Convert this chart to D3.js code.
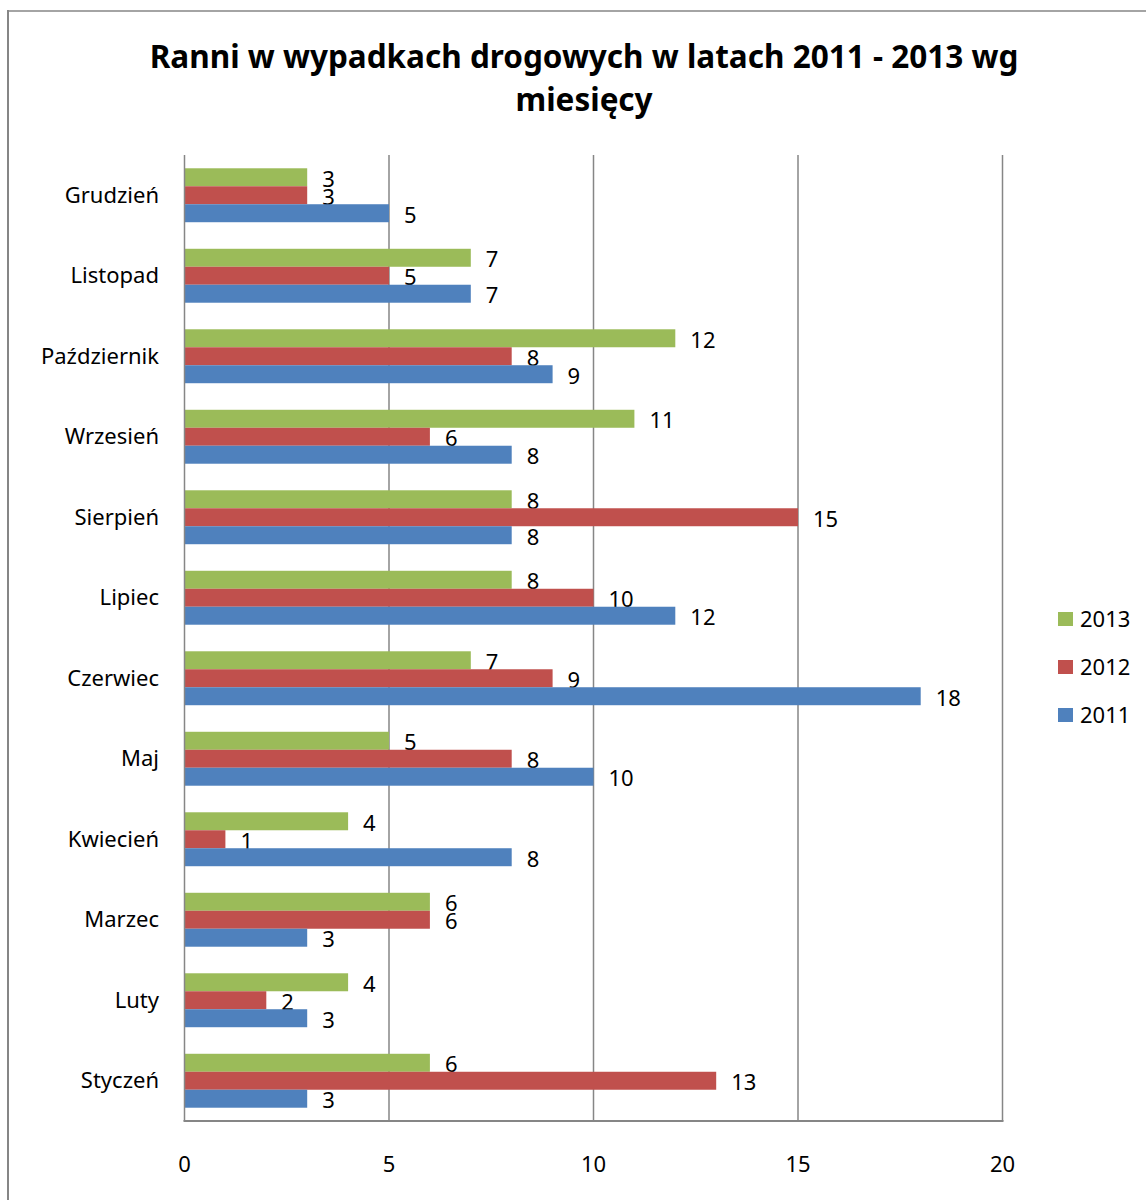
<!DOCTYPE html>
<html>
<head>
<meta charset="utf-8">
<script src="https://cdn.jsdelivr.net/npm/d3@7"></script>
<style>
  body { margin: 0; background: #fff; }
  text { font-family: "Noto Sans", "Open Sans", sans-serif; }
</style>
</head>
<body>
<div id="chart"></div>
<script>
// Month names, bottom to top as in the chart
const months = ["Styczeń", "Luty", "Marzec", "Kwiecień", "Maj", "Czerwiec",
  "Lipiec", "Sierpień", "Wrzesień", "Październik", "Listopad", "Grudzień"];
const years = ["2013", "2012", "2011"];
const values2011 = [3, 3, 3, 8, 10, 18, 12, 8, 8, 9, 7, 5];
const values2012 = [13, 2, 6, 1, 8, 9, 10, 15, 6, 8, 5, 3];
const values2013 = [6, 4, 6, 4, 5, 7, 8, 8, 11, 12, 7, 3];
const xTicks = [0, 5, 10, 15, 20];

const seriesValues = { "2011": values2011, "2012": values2012, "2013": values2013 };

const width = 1146, height = 1200;
const plot = { left: 184.5, right: 1002.5, top: 155, bottom: 1121 };
const fontSize = 22;

const svg = d3.select("#chart").append("svg")
  .attr("width", width)
  .attr("height", height);

// chart frame (only left and top show in the picture)
svg.append("line").attr("x1", 8).attr("x2", 8).attr("y1", 10).attr("y2", height)
  .attr("stroke", "#868686").attr("stroke-width", 2);
svg.append("line").attr("x1", 8).attr("x2", width).attr("y1", 11).attr("y2", 11)
  .attr("stroke", "#868686").attr("stroke-width", 1.5);

// title
const title = svg.append("text")
  .attr("text-anchor", "middle")
  .attr("font-size", 31.5)
  .attr("font-weight", "bold")
  .attr("fill", "#000");
title.append("tspan").attr("x", 584).attr("y", 68).text("Ranni w wypadkach drogowych w latach 2011 - 2013 wg");
title.append("tspan").attr("x", 584).attr("y", 111).text("miesięcy");

const x = d3.scaleLinear().domain([0, 20]).range([plot.left, plot.right]);

// reversed so Styczeń sits at the bottom
const y = d3.scaleBand()
  .domain(months.slice().reverse())
  .range([plot.top, plot.bottom])
  .paddingInner(0.33)
  .paddingOuter(0.165);

const yInner = d3.scaleBand()
  .domain(years)
  .range([0, y.bandwidth()]);

const color = d3.scaleOrdinal()
  .domain(["2011", "2012", "2013"])
  .range(["#4F81BD", "#C0504D", "#9BBB59"]);

// gridlines
svg.append("g")
  .selectAll("line")
  .data(xTicks.filter(d => d > 0))
  .enter()
  .append("line")
  .attr("x1", d => x(d)).attr("x2", d => x(d))
  .attr("y1", plot.top).attr("y2", plot.bottom)
  .attr("stroke", "#868686").attr("stroke-width", 1.5);

// bars
const groups = svg.append("g")
  .selectAll("g")
  .data(months)
  .enter()
  .append("g")
  .attr("transform", d => `translate(0, ${y(d)})`);

const cells = groups.selectAll("g")
  .data((m, i) => years.map(yr => ({ year: yr, value: seriesValues[yr][i] })))
  .enter()
  .append("g");

cells.append("rect")
  .attr("x", x(0))
  .attr("y", d => yInner(d.year))
  .attr("width", d => x(d.value) - x(0))
  .attr("height", yInner.bandwidth())
  .attr("fill", d => color(d.year));

// data labels
cells.append("text")
  .attr("x", d => x(d.value) + 15)
  .attr("y", d => yInner(d.year) + yInner.bandwidth() / 2 + 2)
  .attr("dy", "0.35em")
  .attr("font-size", fontSize)
  .attr("fill", "#000")
  .text(d => d.value);

// axis lines: left and bottom of plot
svg.append("line").attr("x1", plot.left).attr("x2", plot.left)
  .attr("y1", plot.top).attr("y2", plot.bottom)
  .attr("stroke", "#868686").attr("stroke-width", 1.5);
svg.append("line").attr("x1", plot.left - 1).attr("x2", plot.right + 1)
  .attr("y1", plot.bottom).attr("y2", plot.bottom)
  .attr("stroke", "#868686").attr("stroke-width", 2);

// category labels
svg.append("g")
  .selectAll("text")
  .data(months)
  .enter()
  .append("text")
  .attr("x", 159)
  .attr("y", d => y(d) + y.bandwidth() / 2)
  .attr("dy", "0.35em")
  .attr("text-anchor", "end")
  .attr("font-size", fontSize)
  .attr("fill", "#000")
  .text(d => d);

// x tick labels
svg.append("g")
  .selectAll("text")
  .data(xTicks)
  .enter()
  .append("text")
  .attr("x", d => x(d))
  .attr("y", 1164)
  .attr("dy", "0.35em")
  .attr("text-anchor", "middle")
  .attr("font-size", fontSize)
  .attr("fill", "#000")
  .text(d => d);

// legend
const legend = svg.append("g")
  .selectAll("g")
  .data(years)
  .enter()
  .append("g")
  .attr("transform", (d, i) => `translate(1058, ${619 + i * 48})`);

legend.append("rect")
  .attr("x", 0).attr("y", -7)
  .attr("width", 15).attr("height", 14)
  .attr("fill", d => color(d));

legend.append("text")
  .attr("x", 22)
  .attr("y", 0)
  .attr("dy", "0.35em")
  .attr("font-size", fontSize)
  .attr("fill", "#000")
  .text(d => d);
</script>
</body>
</html>
